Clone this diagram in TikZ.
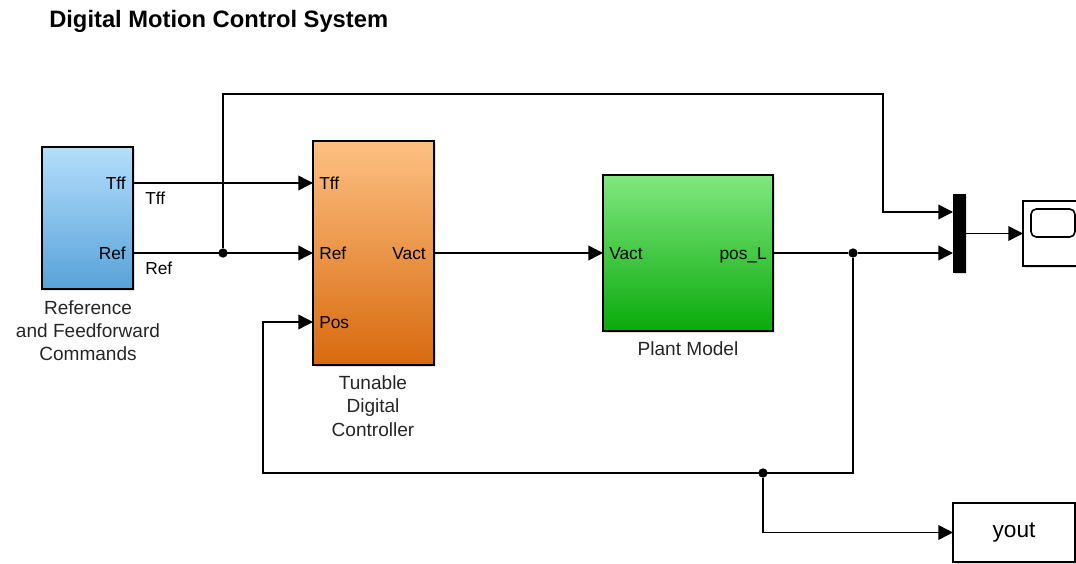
\documentclass[tikz,border=0pt]{standalone}
\usepackage{fontspec}
\setmainfont{Liberation Sans}
\usepackage{xcolor}
\usetikzlibrary{arrows.meta, positioning, shadows}
\definecolor{refTop}{RGB}{180,222,252}
\definecolor{refBot}{RGB}{88,162,216}
\definecolor{ctrlTop}{RGB}{253,192,130}
\definecolor{ctrlBot}{RGB}{216,106,14}
\definecolor{plantTop}{RGB}{128,232,128}
\definecolor{plantBot}{RGB}{10,170,10}

\tikzset{
    blk/.style={draw, line width=1.2pt, rectangle, inner sep=0pt, outer sep=0pt, anchor=north west,
        drop shadow={shadow xshift=1.5pt, shadow yshift=-1.5pt, opacity=0.25}},
    port/.style={inner sep=0pt, font=\fontsize{13}{15}\selectfont, text height=9.3pt, text depth=0pt},
    blkname/.style={inner sep=0pt, anchor=north, align=center, text=black!85, font=\fontsize{14.3}{17.6}\selectfont},
    sig/.style={line width=1.1pt, -{Triangle[length=11pt, width=11pt]}},
    wire/.style={line width=1.1pt},
    junc/.style={circle, fill=black, inner sep=0pt, minimum size=7pt}
}

\begin{document}
\begin{tikzpicture}[x=0.75pt, y=-0.75pt]
    \useasboundingbox (0,0) rectangle (1076,564);
    \node[anchor=base west, inner sep=0pt, font=\fontsize{17.8}{20}\selectfont\bfseries] (title) at (49,27) {Digital Motion Control System};

    % blocks
    \node[blk, top color=refTop, bottom color=refBot, minimum width=68.25pt, minimum height=106.5pt] (refblk) at (42,147) {};
    \node[blk, top color=ctrlTop, bottom color=ctrlBot, minimum width=90.75pt, minimum height=168pt] (ctrl) at (313,141) {};
    \node[blk, top color=plantTop, bottom color=plantBot, minimum width=127.5pt, minimum height=117pt] (plant) at (603,175) {};
    \node[draw, fill=black, inner sep=0pt, outer sep=0pt, anchor=north west, minimum width=9pt, minimum height=58.5pt,
        drop shadow={shadow xshift=1.5pt, shadow yshift=-1.5pt, opacity=0.25}] (mux) at (953,194) {};
    \node[blk, fill=white, minimum width=52pt, minimum height=48.75pt] (scope) at (1023,201) {};
    \draw[line width=1.2pt, rounded corners=4pt] (1031,209) rectangle (1075,237);
    \node[blk, fill=white, minimum width=91.5pt, minimum height=44.25pt, font=\fontsize{17}{20}\selectfont] (yout) at (953,503) {yout};

    % port labels
    \node[port, anchor=east] (rtff) at (126,183) {Tff};
    \node[port, anchor=east] (rref) at (126,253) {Ref};
    \node[port, anchor=west] (ctff) at (319,183) {Tff};
    \node[port, anchor=west] (cref) at (319,253) {Ref};
    \node[port, anchor=west] (cpos) at (319,322) {Pos};
    \node[port, anchor=east] (cvact) at (426,253) {Vact};
    \node[port, anchor=west] (pvact) at (609,253) {Vact};
    \node[port, anchor=east] (ppos) at (767,253) {pos\_L};

    % block names
    \node[blkname] (refname) at (88,300) {Reference\\and Feedforward\\Commands};
    \node[blkname] (ctrlname) at (373,375) {Tunable\\Digital\\Controller};
    \node[blkname] (plantname) at (688,341) {Plant Model};

    % signal labels
    \node[port, anchor=west] (ltff) at (145,198) {Tff};
    \node[port, anchor=west] (lref) at (145,268) {Ref};

    % junctions and corners
    \node[junc] (j1) at (223,253) {};
    \node[junc] (j2) at (853,253) {};
    \node[junc] (j3) at (763,473) {};
    \coordinate (mtop) at (883,94);
    \coordinate (muxin) at (953,212);
    \coordinate (fbl) at (263,473);

    % connectors
    \draw[sig] (rtff -| refblk.east) -- (ctff -| ctrl.west);
    \draw[sig] (rref -| refblk.east) -- (cref -| ctrl.west);
    \draw[sig] (cvact -| ctrl.east) -- (pvact -| plant.west);
    \draw[wire] (ppos -| plant.east) -- (j2);
    \draw[sig] (j2) -- (j2 -| mux.west);
    \draw[sig] (j1) -- (j1 |- mtop) -- (mtop) |- (muxin);
    \draw[sig] (mux.east |- scope.west) -- (scope.west);
    \draw[sig] (j2) |- (fbl) |- (cpos -| ctrl.west);
    \draw[sig] (j3) |- (yout.west);
\end{tikzpicture}
\end{document}
